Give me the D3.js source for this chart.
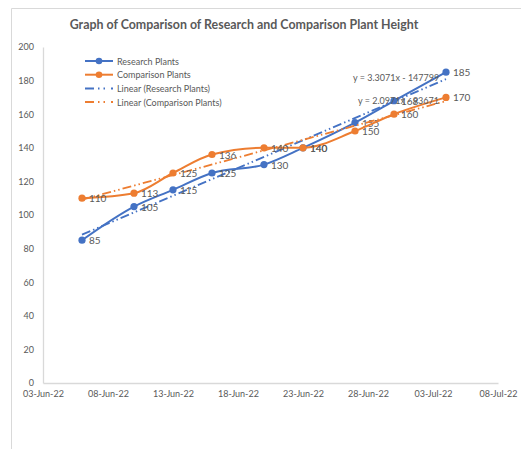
<!DOCTYPE html>
<html>
<head>
<meta charset="utf-8">
<script src="https://cdn.jsdelivr.net/npm/d3@7"></script>
<style>
  body { margin: 0; background: #fff; }
  text { font-family: Lato, "Open Sans", sans-serif; }
</style>
</head>
<body>
<div id="chart"></div>
<script>
var dates = ["2022-06-06", "2022-06-10", "2022-06-13", "2022-06-16", "2022-06-20",
             "2022-06-23", "2022-06-27", "2022-06-30", "2022-07-04"];
var research = [85, 105, 115, 125, 130, 140, 155, 168, 185];
var comparison = [110, 113, 125, 136, 140, 140, 150, 160, 170];
var yTicks = [0, 20, 40, 60, 80, 100, 120, 140, 160, 180, 200];
var xTickLabels = ["03-Jun-22", "08-Jun-22", "13-Jun-22", "18-Jun-22", "23-Jun-22",
                   "28-Jun-22", "03-Jul-22", "08-Jul-22"];

const W = 521, H = 449;
const margin = { top: 47, right: 23, bottom: 66, left: 43 };
const blue = "#4472C4", orange = "#ED7D31", grey = "#595959";

var parse = d3.utcParse("%Y-%m-%d");
var fmt = d3.utcFormat("%d-%b-%y");

var series = [
  { name: "Research Plants", color: blue, values: research },
  { name: "Comparison Plants", color: orange, values: comparison }
];

var svg = d3.select("#chart").append("svg")
  .attr("width", W).attr("height", H);

// chart area border (only top and left show in the shot)
svg.append("path")
  .attr("d", "M11.5," + H + "V8.5H" + W)
  .attr("fill", "none").attr("stroke", "#d9d9d9");

var x = d3.scaleUtc()
  .domain([parse("2022-06-03"), parse("2022-07-08")])
  .range([margin.left, W - margin.right]);
var y = d3.scaleLinear().domain([0, 200]).range([H - margin.bottom, margin.top]);

svg.append("text")
  .attr("x", 244).attr("y", 29)
  .attr("text-anchor", "middle")
  .style("font-size", "12.4px").style("font-weight", "bold")
  .attr("fill", grey)
  .text("Graph of Comparison of Research and Comparison Plant Height");

// axes
var yAxis = svg.append("g")
  .attr("transform", "translate(" + margin.left + ",0)")
  .call(d3.axisLeft(y).tickValues(yTicks).tickSize(0).tickPadding(9));
var xAxis = svg.append("g")
  .attr("transform", "translate(0," + (H - margin.bottom) + ")")
  .call(d3.axisBottom(x)
    .tickValues(xTickLabels.map(d => d3.utcParse("%d-%b-%y")(d)))
    .tickFormat(fmt).tickSize(0).tickPadding(8));
[xAxis, yAxis].forEach(function (g) {
  g.select(".domain").attr("stroke", "#d9d9d9").attr("stroke-width", 1.3);
  g.selectAll("text").attr("fill", grey).style("font-size", "9px");
});

// excel style linear trendlines, x as serial day numbers
function serial(d) { return d / 864e5 + 25569; }
function fit(vals) {
  var xs = dates.map(d => serial(parse(d)));
  var mx = d3.mean(xs), my = d3.mean(vals);
  var sxy = d3.sum(xs, (v, i) => (v - mx) * (vals[i] - my));
  var sxx = d3.sum(xs, v => (v - mx) * (v - mx));
  var b = sxy / sxx;
  return { slope: b, icpt: my - b * mx };
}

series.forEach(function (s) {
  var pts = dates.map((d, i) => ({ date: parse(d), v: s.values[i] }));
  var f = fit(s.values);
  s.fit = f;
  var ends = [pts[0].date, pts[pts.length - 1].date];
  svg.append("path")
    .attr("d", d3.line()(ends.map(d => [x(d), y(f.slope * serial(d) + f.icpt)])))
    .attr("fill", "none").attr("stroke", s.color).attr("stroke-width", 1.8)
    .attr("stroke-dasharray", "9,3,1.5,3,1.5,3");

  svg.append("path")
    .datum(pts)
    .attr("d", d3.line().x(d => x(d.date)).y(d => y(d.v)).curve(d3.curveMonotoneX))
    .attr("fill", "none").attr("stroke", s.color).attr("stroke-width", 2);

  svg.selectAll(null).data(pts).join("circle")
    .attr("cx", d => x(d.date)).attr("cy", d => y(d.v)).attr("r", 3.6)
    .attr("fill", s.color);

  svg.selectAll(null).data(pts).join("text")
    .attr("x", d => x(d.date) + 7).attr("y", d => y(d.v) + 4)
    .attr("fill", grey).style("font-size", "10px")
    .text(d => d.v);
});

// equations
var eqPos = [[353, 81], [358, 104]];
series.forEach(function (s, i) {
  var f = s.fit;
  svg.append("text")
    .attr("x", eqPos[i][0]).attr("y", eqPos[i][1])
    .attr("fill", grey).style("font-size", "9px")
    .text("y = " + f.slope.toFixed(4) + "x - " + Math.round(-f.icpt));
});

// legend
var legend = [
  { label: "Research Plants", color: blue, trend: false },
  { label: "Comparison Plants", color: orange, trend: false },
  { label: "Linear (Research Plants)", color: blue, trend: true },
  { label: "Linear (Comparison Plants)", color: orange, trend: true }
];
var lg = svg.append("g").attr("transform", "translate(85,61)");
legend.forEach(function (l, i) {
  var row = lg.append("g").attr("transform", "translate(0," + i * 13.7 + ")");
  row.append("line").attr("x1", 0).attr("x2", 28)
    .attr("stroke", l.color).attr("stroke-width", 2)
    .attr("stroke-dasharray", l.trend ? "9,4,1.5,4,1.5,6" : null);
  if (!l.trend) row.append("circle").attr("cx", 14).attr("r", 3.3).attr("fill", l.color);
  row.append("text").attr("x", 32).attr("y", 3.5)
    .attr("fill", grey).style("font-size", "9px").text(l.label);
});
</script>
</body>
</html>
